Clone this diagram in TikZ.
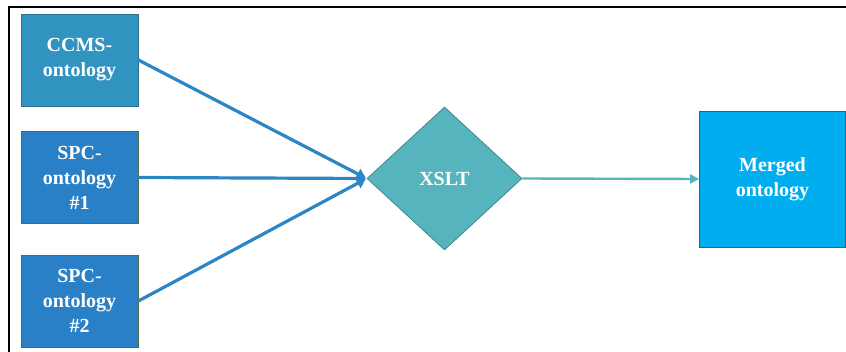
\documentclass[tikz,border=0pt]{standalone}
\usepackage{fontspec}
\setmainfont{Liberation Serif}
\usetikzlibrary{shapes.geometric,arrows.meta}
\definecolor{ccmsfill}{HTML}{3194C0}
\definecolor{ccmsdraw}{HTML}{2E6E8E}
\definecolor{spcfill}{HTML}{2A80C6}
\definecolor{spcdraw}{HTML}{4E6E4A}
\definecolor{xfill}{HTML}{55B4BD}
\definecolor{xdraw}{HTML}{3F8A8F}
\definecolor{mfill}{HTML}{00AEEF}
\definecolor{mdraw}{HTML}{2060A0}
\definecolor{inarrow}{HTML}{2C86C4}
\definecolor{outarrow}{HTML}{55B5BD}
\tikzset{
  lbl/.style={text=white, font=\fontsize{20}{25}\selectfont\bfseries, align=center},
  srcbox/.style={lbl, draw=#1draw, fill=#1fill, line width=0.8pt, minimum width=117pt, minimum height=92pt, inner sep=0pt},
  inarr/.style={draw=inarrow, line width=3.2pt, -{Triangle[length=9pt,width=11pt]}, shorten >=1pt},
  outarr/.style={draw=outarrow, line width=2.4pt, -{Triangle[length=9pt,width=9pt]}},
}
\begin{document}
\begin{tikzpicture}[x=1pt,y=-1pt]
\useasboundingbox (0,0) rectangle (846,352);
\draw[line width=1.6pt] (9,352) -- (9,7) -- (846,7);
\node[srcbox=ccms] (ccms) at (79.5,60) {CCMS-\\ontology};
\node[srcbox=spc] (spc1) at (79.5,177.5) {SPC-\\ontology\\\#1};
\node[srcbox=spc] (spc2) at (79.5,301) {SPC-\\ontology\\\#2};
\node[lbl, diamond, draw=xdraw, fill=xfill, line width=0.8pt, minimum width=155pt, minimum height=143pt, aspect=1.08, inner sep=0pt] (xslt) at (444.5,178.5) {XSLT};
\node[lbl, draw=mdraw, fill=mfill, line width=0.8pt, minimum width=146pt, minimum height=136pt, inner sep=0pt] (merged) at (772.5,179) {Merged\\ontology};
\draw[inarr] (ccms.east) -- (xslt.west);
\draw[inarr] (spc1.east) -- (xslt.west);
\draw[inarr] (spc2.east) -- (xslt.west);
\draw[outarr] (xslt.east) -- (merged.west);
\end{tikzpicture}
\end{document}
